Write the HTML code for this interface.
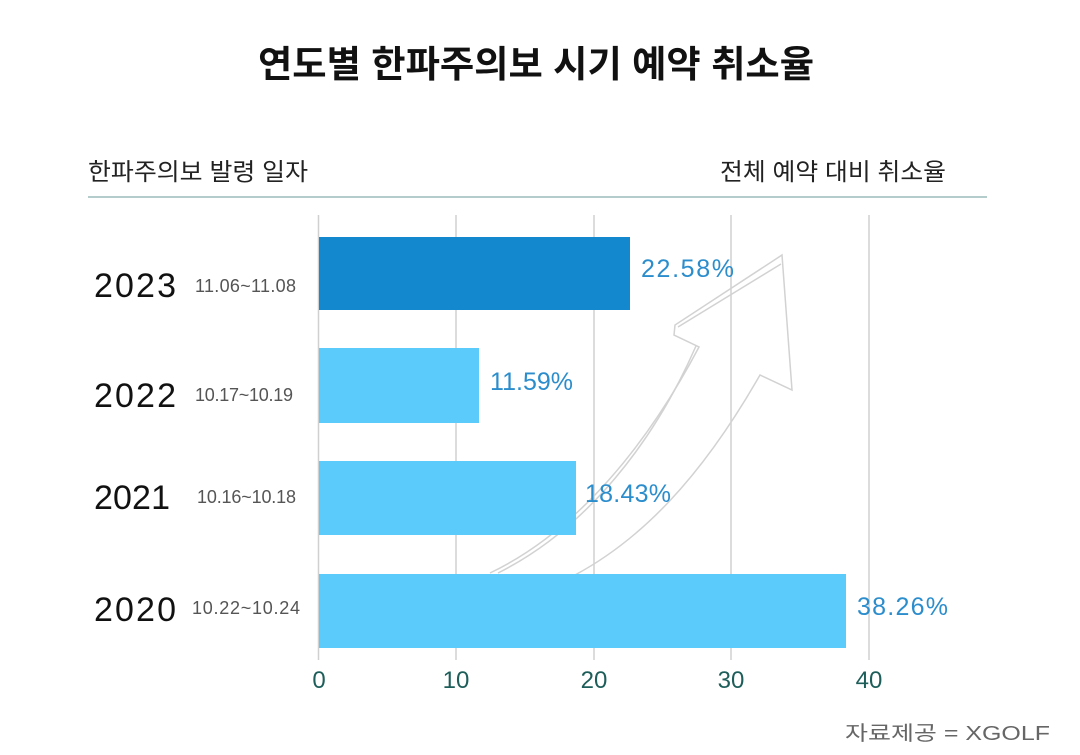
<!DOCTYPE html>
<html><head><meta charset="utf-8"><style>
body{margin:0;background:#fff;}
svg text{font-family:"Liberation Sans","Noto Sans CJK KR",sans-serif;}
</style></head><body>
<svg width="1080" height="750" viewBox="0 0 1080 750" xmlns="http://www.w3.org/2000/svg">
<rect width="1080" height="750" fill="#fff"/>
<text x="536" y="77" text-anchor="middle" font-size="37" font-weight="bold" fill="#111" textLength="556" lengthAdjust="spacingAndGlyphs">연도별 한파주의보 시기 예약 취소율</text>
<text x="88" y="180" font-size="24" fill="#222" textLength="220" lengthAdjust="spacingAndGlyphs">한파주의보 발령 일자</text>
<text x="720" y="180" font-size="24" fill="#222" textLength="226" lengthAdjust="spacingAndGlyphs">전체 예약 대비 취소율</text>
<line x1="88" y1="197" x2="987" y2="197" stroke="#b5cccc" stroke-width="2"/>
<g stroke="#d0d0d0" stroke-width="1.5">
<line x1="318.5" y1="215" x2="318.5" y2="660"/>
<line x1="456" y1="215" x2="456" y2="660"/>
<line x1="594" y1="215" x2="594" y2="660"/>
<line x1="731" y1="215" x2="731" y2="660"/>
<line x1="869" y1="215" x2="869" y2="660"/>
</g>
<g fill="none" stroke="#d2d2d2" stroke-width="1.5">
<path d="M490,573 C580,530 650,440 699,347 L674,335 L675,325 L782,255 L792,390 L760,375 C700,480 640,540 575,575"/>
<path d="M498,573 C588,528 655,440 696,346 M678,327 L781,264"/>
</g>
<rect x="319" y="237" width="311" height="73" fill="#1488cf"/>
<rect x="319" y="348" width="160" height="75" fill="#5bcbfc"/>
<rect x="319" y="461" width="257" height="74" fill="#5bcbfc"/>
<rect x="319" y="574" width="527" height="74" fill="#5bcbfc"/>
<g font-size="25" fill="#2b8dcc" lengthAdjust="spacingAndGlyphs">
<text x="641" y="277" textLength="93">22.58%</text>
<text x="490" y="390" textLength="83">11.59%</text>
<text x="585" y="502" textLength="86">18.43%</text>
<text x="857" y="615" textLength="91">38.26%</text>
</g>
<g font-size="34" fill="#111" lengthAdjust="spacingAndGlyphs">
<text x="94" y="297" textLength="82">2023</text>
<text x="94" y="407" textLength="82">2022</text>
<text x="94" y="509" textLength="76">2021</text>
<text x="94" y="621" textLength="82">2020</text>
</g>
<g font-size="18" fill="#555" lengthAdjust="spacingAndGlyphs">
<text x="195" y="292" textLength="101">11.06~11.08</text>
<text x="195" y="401" textLength="98">10.17~10.19</text>
<text x="197" y="503" textLength="99">10.16~10.18</text>
<text x="192" y="614" textLength="108">10.22~10.24</text>
</g>
<g font-size="24" fill="#1e5e5a" text-anchor="middle">
<text x="319" y="688">0</text>
<text x="456" y="688">10</text>
<text x="594" y="688">20</text>
<text x="731" y="688">30</text>
<text x="869" y="688">40</text>
</g>
<text x="845" y="740" font-size="20" fill="#666" textLength="205" lengthAdjust="spacingAndGlyphs">자료제공 = XGOLF</text>
</svg>
</body></html>
